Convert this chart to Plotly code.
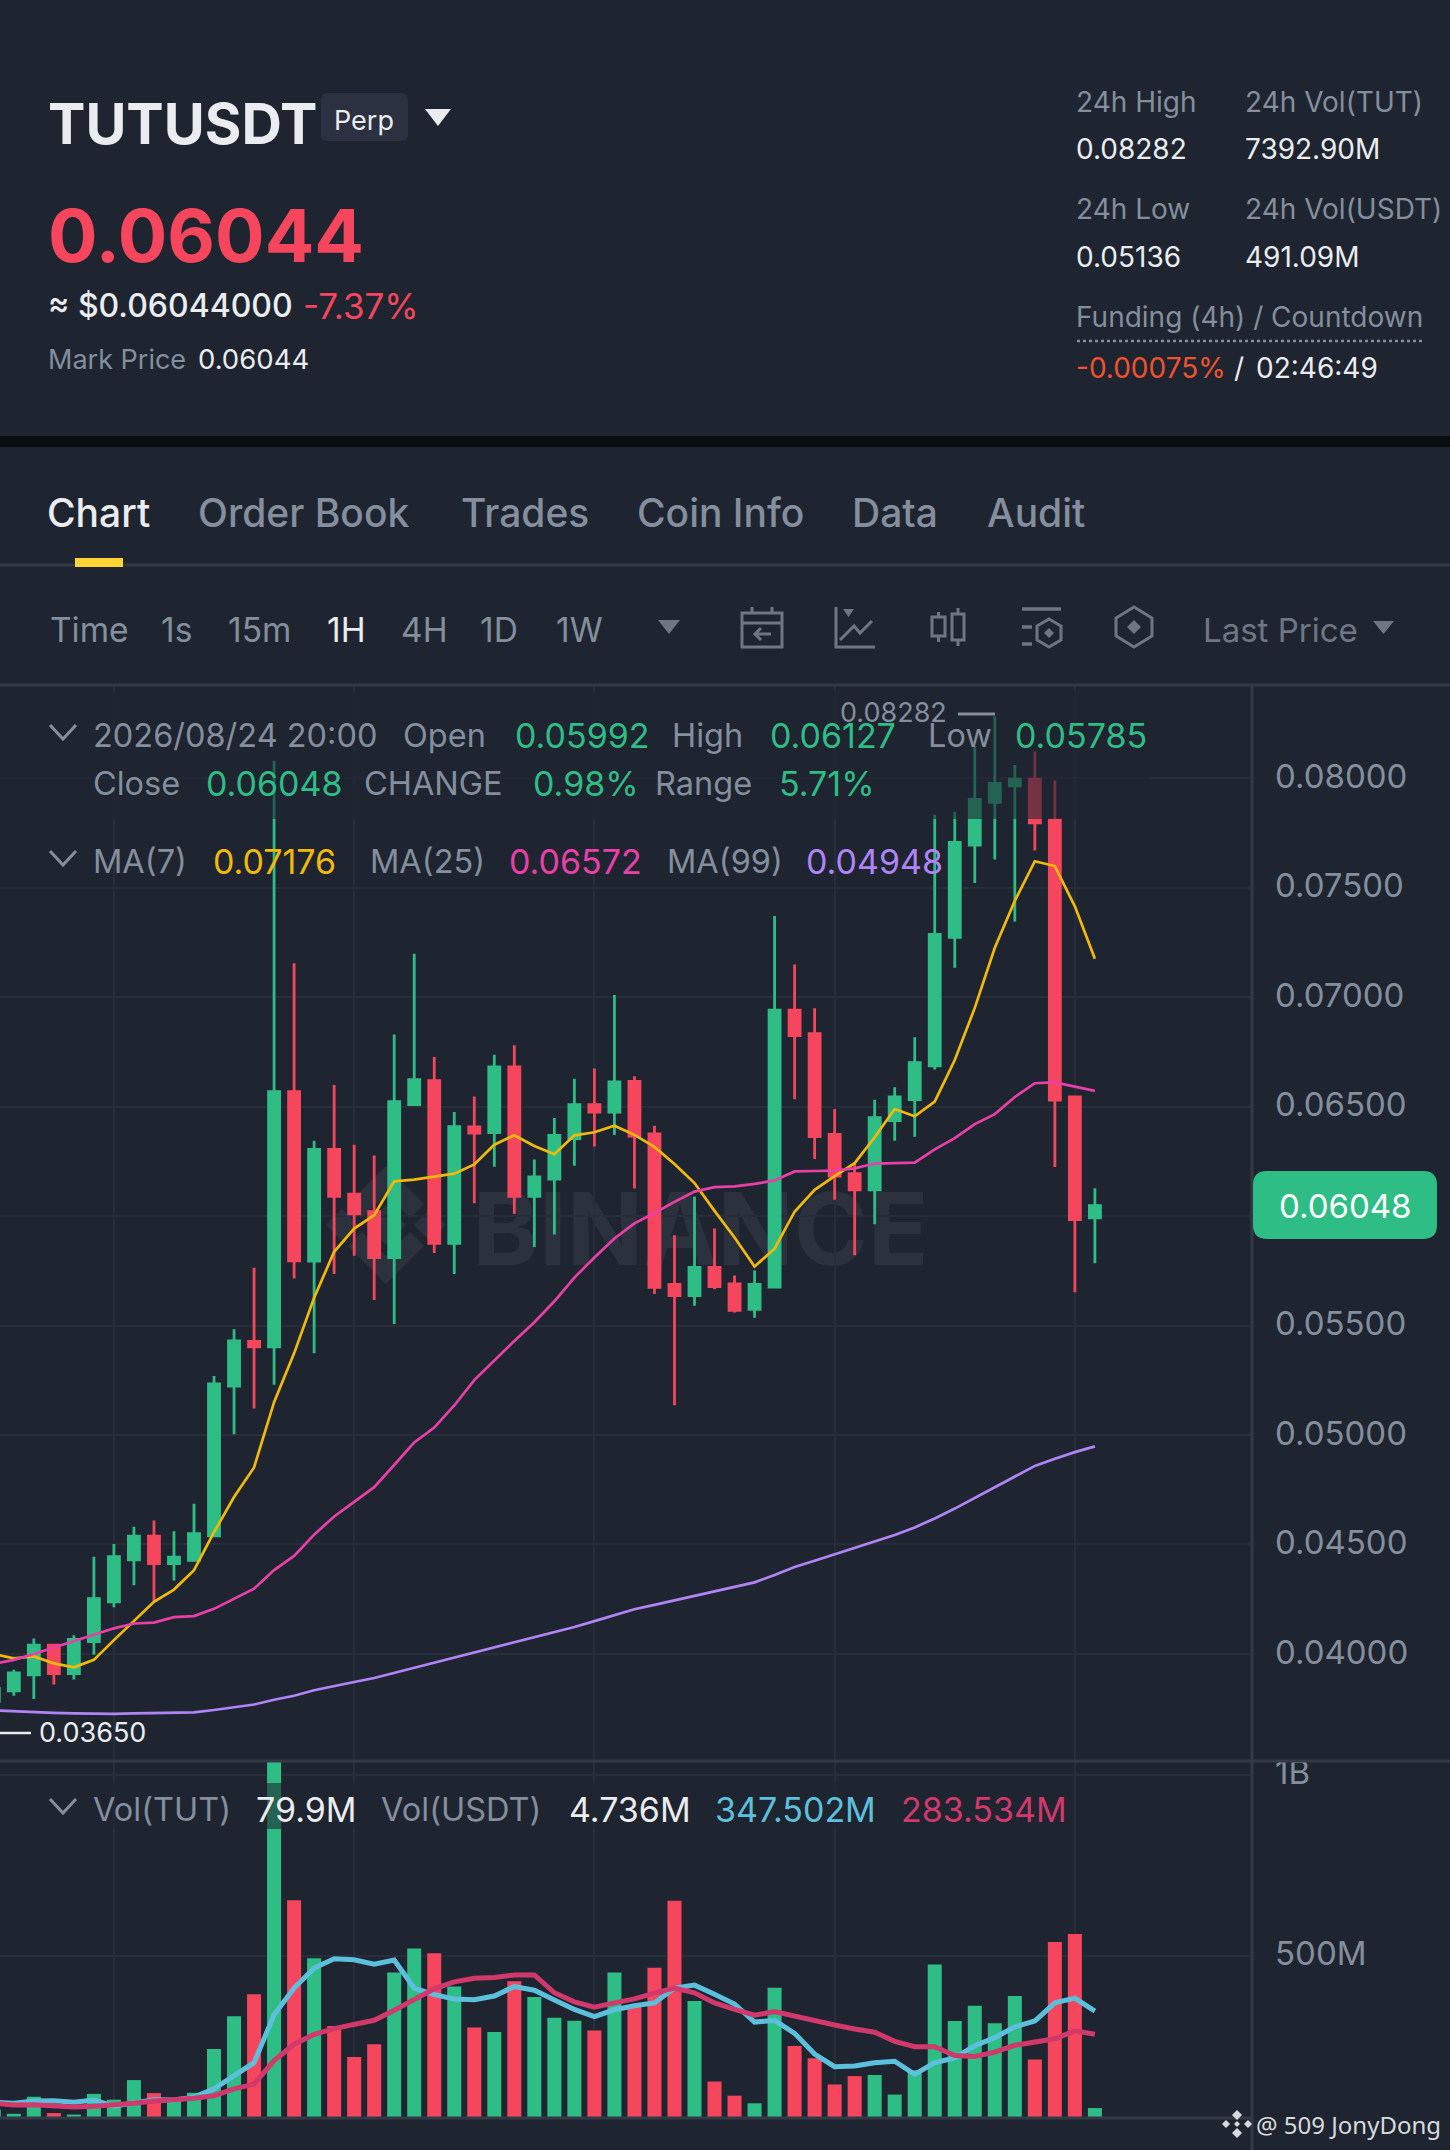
import plotly.graph_objects as go

# ---------- DATA ----------
opens = [.03783,.03832,.03904,.0404,.0391,.04056,.04238,.0443,.04538,.04413,.04428,.0454,.05224,.05428,
         .05403,.06568,.05794,.06305,.0610,.0602,.05811,.06509,.06619,.05876,.06407,.06381,.06682,.0609,
         .06169,.06354,.06509,.06475,.06615,.06375,.05688,.05637,.05766,.0569,.05574,.05676,.06941,.06833,
         .06373,.06194,.0612,.06436,.06532,.06686,.07273,.07695,.0789,.07965,.07996,.07809,.06544,.05992]
highs = [.0387,.03928,.0407,.0404,.04085,.04444,.04502,.04581,.0461,.04561,.04686,.0527,.05483,.05764,
         .0808,.07155,.06344,.06599,.06326,.06277,.06829,.07198,.06727,.06475,.06546,.06737,.0678,.06259,
         .06448,.06627,.06674,.0701,.06639,.06413,.05912,.0609,.05943,.05729,.05752,.07371,.07149,.06949,
         .06489,.06238,.06532,.06589,.06817,.07833,.07847,.08147,.08282,.08061,.08122,.0799,.06544,.06127]
lows = [.0365,.03809,.03794,.03861,.03883,.03996,.04213,.04314,.04242,.04336,.04428,.0454,.05004,.05121,
        .0523,.05715,.05373,.05735,.05819,.05617,.05507,.06509,.05831,.05735,.06059,.06226,.0601,.05859,
        .05916,.0623,.06318,.06371,.06126,.05644,.05136,.05591,.05666,.0556,.05536,.05676,.06534,.06261,
        .06075,.05821,.05963,.06344,.06363,.0667,.07134,.07521,.07629,.07346,.0767,.06224,.05652,.05785]
closes = [.03843,.03913,.0404,.0391,.04067,.04253,.04444,.04538,.04413,.04442,.04549,.05233,.0543,.05403,
          .06568,.05796,.06305,.0609,.0601,.05811,.06523,.06623,.05876,.06409,.06379,.06682,.0609,.06179,
          .06369,.06509,.06475,.06613,.06365,.05674,.05637,.05766,.05678,.0557,.05688,.06941,.06825,.06363,
          .06183,.0612,.0645,.06544,.06701,.07287,.07707,.07904,.07976,.07996,.07796,.0653,.05984,.06048]
volumes = [76,64,111,66,62,119,103,157,121,102,122,243,333,394,1060,653,493,306,221,256,454,520,507,415,
           302,290,430,386,329,321,294,454,360,467,652,375,153,114,93,412,251,217,145,168,171,117,184,476,
           320,362,314,389,214,538,560,79.9]
ma7 = [.04,.0398,.03989,.03957,.03939,.03973,.04063,.04152,.04238,.04294,.04383,.04556,.04717,.04852,.0515,
       .05373,.05627,.05837,.05943,.06004,.06159,.06167,.06179,.06194,.06236,.06326,.06369,.0632,.06283,
       .06369,.06383,.06413,.06371,.06316,.06238,.06151,.06024,.05902,.0577,.05851,.0602,.0612,.06183,
       .06242,.0636,.06489,.06456,.06523,.06713,.06951,.07226,.0744,.07621,.07599,.07415,.07176]
ma25 = [.03955,.03973,.04,.04029,.04056,.04085,.04117,.04139,.04143,.04168,.04173,.04206,.04251,.04298,.04383,
        .04448,.04545,.04628,.04695,.04762,.04863,.04966,.05034,.05135,.05251,.05342,.0543,.05515,.05611,
        .05719,.05811,.05898,.05967,.06014,.06065,.06112,.06132,.06136,.06147,.06163,.06204,.06206,.06208,
        .06218,.0624,.06242,.06244,.06305,.06356,.0642,.06466,.06544,.06607,.06611,.06593,.06572]
ma99 = [.03742,.03738,.03733,.03731,.03729,.03726,.03726,.03729,.03731,.03731,.03733,.03744,.03756,.03769,.03791,
        .03809,.03834,.03854,.03872,.0389,.03913,.03939,.0396,.03982,.04007,.04031,.04052,.04074,.04099,
        .04123,.0415,.04177,.04204,.04224,.04244,.04265,.04285,.04307,.04327,.04361,.04397,.04426,.04455,
        .04482,.04511,.04543,.04578,.04619,.04664,.04713,.04762,.04812,.04859,.04892,.04922,.04948]
vol_ma5 = [96,93,99,100,96,102,85,93,103,102,110,133,167,205,337,411,466,492,489,477,488,411,393,381,379,389,
           415,405,378,352,332,351,362,370,411,419,394,367,317,322,286,229,194,196,205,209,173,205,218,252,
           274,304,320,370,383,347.5]
vol_ma10 = [93,88,89,85,83,85,88,93,99,102,107,114,133,146,211,256,283,299,312,322,350,378,409,428,438,440,447,
            447,398,373,358,370,381,397,411,398,370,352,336,346,333,321,309,298,289,264,249,249,225,222,234,
            253,263,271,293,283.5]
candle_index = list(range(len(closes)))
grid_candles = [6, 18, 30, 42, 54]
vol_ticks = [500, 1000]
vol_tick_labels = ["500M", "1B"]

# ---------- STYLE ----------
W, H = 1450, 2150
BG = "#1e2530"; GRID = "#282e39"; SEP = "#333a46"
GREEN = "#2ebd85"; RED = "#f6465d"; GRAY = "#848e9c"; WHITE = "#eaecef"
YEL = "#f0b90b"; PINK = "#e93fa8"; PUR = "#b084f5"; CYAN = "#5cc0dc"; CRIM = "#d1386b"
DIMICON = "#6f7683"
F = "Inter, 'Open Sans', sans-serif"

fx = lambda x: x / W
fy = lambda y: 1 - y / H

vol_colors = [GREEN if c >= o else RED for o, c in zip(opens, closes)]

fig = go.Figure()
fig.add_trace(go.Candlestick(
    x=candle_index, open=opens, high=highs, low=lows, close=closes, xaxis="x", yaxis="y",
    increasing=dict(line=dict(color=GREEN, width=2.8), fillcolor=GREEN),
    decreasing=dict(line=dict(color=RED, width=2.8), fillcolor=RED),
    whiskerwidth=0, showlegend=False, hoverinfo="skip"))
for vals, col in ((ma7, YEL), (ma25, PINK), (ma99, PUR)):
    fig.add_trace(go.Scatter(x=candle_index, y=vals, mode="lines", xaxis="x", yaxis="y",
                             line=dict(color=col, width=2.7), showlegend=False, hoverinfo="skip"))
fig.add_trace(go.Bar(x=candle_index, y=volumes, marker=dict(color=vol_colors, line=dict(width=0)),
                     xaxis="x2", yaxis="y2", showlegend=False, hoverinfo="skip"))
for vals, col in ((vol_ma5, CYAN), (vol_ma10, CRIM)):
    fig.add_trace(go.Scatter(x=candle_index, y=vals, mode="lines", xaxis="x2", yaxis="y2",
                             line=dict(color=col, width=5), showlegend=False, hoverinfo="skip"))

shapes = []
def rect(x0, y0, x1, y1, fill, layer="above"):
    shapes.append(dict(type="rect", xref="paper", yref="paper", x0=fx(x0), x1=fx(x1), y0=fy(y0), y1=fy(y1),
                       fillcolor=fill, line=dict(width=0), layer=layer))
def hline(x0, x1, y, color=SEP, width=3, dash=None, layer="above"):
    shapes.append(dict(type="line", xref="paper", yref="paper", x0=fx(x0), x1=fx(x1), y0=fy(y), y1=fy(y),
                       line=dict(color=color, width=width, dash=dash or "solid"), layer=layer))
def vline(x, y0, y1, color=SEP, width=3):
    shapes.append(dict(type="line", xref="paper", yref="paper", x0=fx(x), x1=fx(x), y0=fy(y0), y1=fy(y1),
                       line=dict(color=color, width=width), layer="above"))
def path(pts, fill=None, color=None, width=0, close=False, layer="above"):
    d = "M " + " L ".join(f"{fx(a):.5f} {fy(b):.5f}" for a, b in pts) + (" Z" if close else "")
    shapes.append(dict(type="path", xref="paper", yref="paper", path=d, layer=layer,
                       fillcolor=fill or "rgba(0,0,0,0)",
                       line=dict(color=color or "rgba(0,0,0,0)", width=width)))
def rrect(x0, y0, x1, y1, r, fill):
    d = (f"M {fx(x0+r):.5f} {fy(y0):.5f} L {fx(x1-r):.5f} {fy(y0):.5f} Q {fx(x1):.5f} {fy(y0):.5f} {fx(x1):.5f} {fy(y0+r):.5f} "
         f"L {fx(x1):.5f} {fy(y1-r):.5f} Q {fx(x1):.5f} {fy(y1):.5f} {fx(x1-r):.5f} {fy(y1):.5f} "
         f"L {fx(x0+r):.5f} {fy(y1):.5f} Q {fx(x0):.5f} {fy(y1):.5f} {fx(x0):.5f} {fy(y1-r):.5f} "
         f"L {fx(x0):.5f} {fy(y0+r):.5f} Q {fx(x0):.5f} {fy(y0):.5f} {fx(x0+r):.5f} {fy(y0):.5f} Z")
    shapes.append(dict(type="path", xref="paper", yref="paper", path=d, fillcolor=fill, line=dict(width=0), layer="above"))
def diamond(cx, cy, r, fill, layer="above"):
    path([(cx, cy-r), (cx+r, cy), (cx, cy+r), (cx-r, cy)], fill=fill, close=True, layer=layer)
def chevron(cy):
    path([(50, cy-7), (63, cy+7), (76, cy-7)], color=GRAY, width=3)

anns = []
def txt(x, y, s, color=GRAY, size=30, weight=400, anchor="left", family=F):
    if anchor == "left":
        x -= 1.5
    anns.append(dict(x=fx(x), y=fy(y), xref="paper", yref="paper", text=s, showarrow=False, xanchor=anchor,
                     yanchor="middle", align="left", borderpad=0, borderwidth=0,
                     font=dict(family=family, size=size, color=color, weight=weight)))

# watermark (below the candles)
WM = "#2c323d"
shapes.append(dict(type="rect", xref="paper", yref="paper", x0=fx(474), x1=fx(927), y0=fy(1265), y1=fy(1185),
                   fillcolor="rgba(0,0,0,0)", line=dict(width=0), layer="below",
                   label=dict(text="BINANCE", textposition="middle center",
                              font=dict(family=F, size=100, color=WM, weight=700))))
diamond(386, 1225, 20, WM, "below"); diamond(342, 1225, 16, WM, "below"); diamond(430, 1225, 16, WM, "below")
path([(386, 1166), (424, 1204), (410, 1218), (386, 1194), (362, 1218), (348, 1204)], fill=WM, close=True, layer="below")
path([(386, 1284), (424, 1246), (410, 1232), (386, 1256), (362, 1232), (348, 1246)], fill=WM, close=True, layer="below")

# legend veils over marks
rect(0, 690, 1150, 819, "rgba(30,37,48,0.6)")
rect(0, 1783, 1070, 1829, "rgba(30,37,48,0.6)")

# structure
rect(0, 436, W, 447, "#0b0e11")
hline(0, W, 565); rect(75, 558, 123, 567, "#fcd535")
hline(0, W, 685); hline(0, W, 1761); hline(0, 1252, 2118)
vline(1252, 685, H)

# header
txt(49, 124, "TUTUSDT", WHITE, 56, 700)
rrect(321, 93, 408, 141, 7, "#2b3140")
txt(335, 120, "Perp", WHITE, 27, 400)
path([(425, 109), (451, 109), (438, 126)], fill=WHITE, close=True)
txt(49, 235, "0.06044", RED, 73.5, 700)
txt(49, 306, "≈ $0.06044000", WHITE, 32, 500)
txt(304, 306, "-7.37%", RED, 35, 400)
txt(49, 359, "Mark Price", GRAY, 27)
txt(199, 359, "0.06044", WHITE, 27.5)
txt(1077, 102, "24h High", GRAY, 28); txt(1246, 102, "24h Vol(TUT)", GRAY, 28)
txt(1077, 149, "0.08282", WHITE, 28); txt(1246, 149, "7392.90M", WHITE, 28)
txt(1077, 209, "24h Low", GRAY, 28); txt(1246, 209, "24h Vol(USDT)", GRAY, 28)
txt(1077, 257, "0.05136", WHITE, 28); txt(1246, 257, "491.09M", WHITE, 28)
txt(1077, 317, "Funding (4h) / Countdown", GRAY, 28)
hline(1077, 1422, 341, GRAY, 2.5, "dot")
txt(1077, 368, "-0.00075%", "#f0522f", 28); txt(1235, 368, "/", WHITE, 28); txt(1257, 368, "02:46:49", WHITE, 28)

# tabs and toolbar
for x, s, c in ((48, "Chart", WHITE), (199, "Order Book", GRAY), (462, "Trades", GRAY),
                (638, "Coin Info", GRAY), (853, "Data", GRAY), (988, "Audit", GRAY)):
    txt(x, 512, s, c, 39, 500)
for x, s, c in ((51, "Time", GRAY), (162, "1s", GRAY), (229, "15m", GRAY), (328, "1H", WHITE),
                (403, "4H", GRAY), (481, "1D", GRAY), (557, "1W", GRAY)):
    txt(x, 630, s, c, 33.5)
txt(1204, 630, "Last Price", DIMICON, 33)
path([(658, 620), (680, 620), (669, 634)], fill=DIMICON, close=True)
path([(1373, 621), (1394, 621), (1383.5, 634)], fill=DIMICON, close=True)
# toolbar icons
ic = dict(color=DIMICON, width=3)
path([(742, 613), (782, 613), (782, 647), (742, 647)], close=True, **ic)
hline(742, 782, 623, DIMICON, 3); vline(752, 607, 613, DIMICON, 3); vline(772, 607, 613, DIMICON, 3)
path([(771, 634), (755, 634)], **ic); path([(761, 628), (755, 634), (761, 640)], **ic)
path([(836, 607), (836, 647), (875, 647)], **ic)
path([(843, 609), (854, 609), (848.5, 617)], fill=DIMICON, close=True)
path([(840, 640), (854, 626), (860, 633), (872, 621)], **ic)
path([(932, 617), (945, 617), (945, 636), (932, 636)], close=True, **ic)
path([(952, 614), (964, 614), (964, 640), (952, 640)], close=True, **ic)
vline(938.5, 612, 617, DIMICON, 3); vline(938.5, 636, 642, DIMICON, 3)
vline(958, 608, 614, DIMICON, 3); vline(958, 640, 646, DIMICON, 3)
hline(1022, 1061, 609, DIMICON, 3.5); hline(1022, 1032, 627, DIMICON, 3.5); hline(1022, 1032, 644, DIMICON, 3.5)
path([(1049, 619), (1061, 626), (1061, 640), (1049, 647), (1037, 640), (1037, 626)], close=True, **ic)
diamond(1049, 633, 5, DIMICON)
path([(1134, 607), (1152, 618), (1152, 636), (1134, 647), (1116, 636), (1116, 618)], close=True, **ic)
diamond(1134, 627, 7, DIMICON)

# chart legends
def leg(y, items):
    for x, s, c in items:
        txt(x, y, s, c, 32.5 if c == GRAY else 34)
chevron(732)
leg(735, ((94, "2026/08/24 20:00", GRAY), (404, "Open", GRAY), (516, "0.05992", GREEN), (673, "High", GRAY),
          (771, "0.06127", GREEN), (929, "Low", GRAY), (1016, "0.05785", GREEN)))
leg(784, ((94, "Close", GRAY), (207, "0.06048", GREEN), (365, "CHANGE", GRAY), (534, "0.98%", GREEN),
          (656, "Range", GRAY), (781, "5.71%", GREEN)))
chevron(858)
leg(861, ((94, "MA(7)", GRAY), (214, "0.07176", YEL), (371, "MA(25)", GRAY), (510, "0.06572", PINK),
          (668, "MA(99)", GRAY), (807, "0.04948", PUR)))
chevron(1806)
leg(1809, ((94, "Vol(TUT)", GRAY), (257, "79.9M", WHITE), (382, "Vol(USDT)", GRAY), (570, "4.736M", WHITE),
           (716, "347.502M", CYAN), (902, "283.534M", CRIM)))

# extreme labels
txt(842, 712, "0.08282", GRAY, 27); hline(958, 995, 714, GRAY, 3)
txt(40, 1732, "0.03650", WHITE, 27); hline(0, 31, 1733, WHITE, 2.5)

# last price tag
rrect(1253, 1171, 1437, 1239, 14, GREEN)
txt(1345, 1206, "0.06048", "#ffffff", 33, 400, "center")

# credit
cx, cy = 1237, 2124
CR = "#d8dade"
diamond(cx, cy-9, 5, CR); diamond(cx, cy+9, 5, CR); diamond(cx-11, cy, 4, CR); diamond(cx+11, cy, 4, CR); diamond(cx, cy, 3, CR)
txt(1257, 2124, "@ 509 JonyDong", CR, 24, 400, family="'Noto Sans', sans-serif")

px_left, px_right, last_px, step = 0, 1252, 1094.9, 20.02
n = len(closes)
x_range = [n - 1 - (last_px - px_left) / step, n - 1 + (px_right - last_px) / step]

xax = dict(domain=[0, fx(1252)], range=x_range, showticklabels=False, ticks="", showline=False, zeroline=False,
           showgrid=True, gridcolor=GRID, gridwidth=2, tickmode="array", tickvals=grid_candles,
           rangeslider=dict(visible=False), fixedrange=True)
fig.update_layout(
    width=W, height=H, margin=dict(l=0, r=0, t=0, b=0, pad=0, autoexpand=False), paper_bgcolor=BG, plot_bgcolor="rgba(0,0,0,0)",
    showlegend=False, boxgap=0.45, boxgroupgap=0, bargap=0.3, hovermode=False,
    font=dict(family=F, color=GRAY),
    xaxis=dict(xax, anchor="y", automargin=False),
    xaxis2=dict({k: v for k, v in xax.items() if k != "rangeslider"}, anchor="y2", matches="x", automargin=False),
    yaxis=dict(domain=[fy(1761), fy(685)], range=[0.03511, 0.08426], side="right", anchor="x", dtick=0.005,
               tickformat=".5f", showgrid=True, gridcolor=GRID, gridwidth=2, zeroline=False, showline=False, automargin=False,
               ticks="", ticklabelstandoff=22, ticklabelshift=-2, tickfont=dict(family=F, size=33, color=GRAY), fixedrange=True),
    yaxis2=dict(domain=[fy(2118), fy(1761)], range=[52.4, 1037.5], side="right", anchor="x2", tickmode="array",
                tickvals=vol_ticks, ticktext=vol_tick_labels, showgrid=True, gridcolor=GRID, gridwidth=2, automargin=False,
                zeroline=False, showline=False, ticks="", ticklabelstandoff=22, ticklabelshift=-2,
                tickfont=dict(family=F, size=33, color=GRAY), fixedrange=True),
    shapes=shapes, annotations=anns,
)
fig.write_html("out.html", config=dict(displayModeBar=False),
               post_script="document.documentElement.style.margin='0';document.documentElement.style.overflow='hidden';"
                           "document.body.style.margin='0';document.body.style.background='#1e2530';"
                           "var g=document.querySelector('.plotly-graph-div');g.style.display='block';g.parentNode.style.display='block';"
                           "window.scrollTo(0,0);")
